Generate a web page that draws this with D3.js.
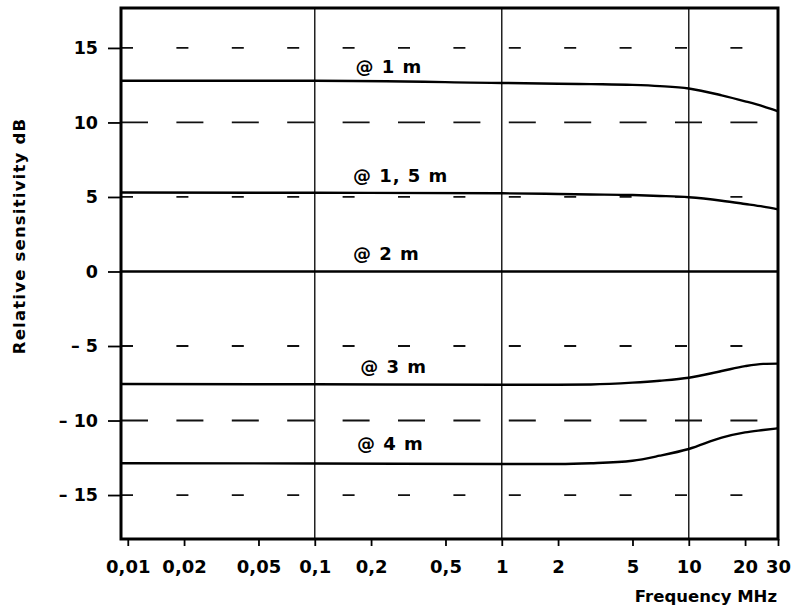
<!DOCTYPE html>
<html>
<meta charset="utf-8">
<head>
<script src="https://cdn.jsdelivr.net/npm/d3@7"></script>
<style>
  body { margin: 0; background: #fff; }
  svg { font-family: "DejaVu Sans", sans-serif; font-weight: bold; }
</style>
</head>
<body>
<script>
// frequencies in MHz (left edge of the frame is just under 0.01)
var freqs = [0.0092, 0.1, 1, 2, 3, 5, 7, 10, 15, 20, 25, 30];
var at1m  = [12.8, 12.8, 12.65, 12.6, 12.57, 12.52, 12.44, 12.28, 11.82, 11.42, 11.08, 10.75];
var at15m = [5.3, 5.28, 5.25, 5.2, 5.17, 5.13, 5.07, 4.98, 4.75, 4.53, 4.35, 4.17];
var at2m  = [0, 0, 0, 0, 0, 0, 0, 0, 0, 0, 0, 0];
var at3m  = [-7.55, -7.57, -7.6, -7.6, -7.58, -7.46, -7.33, -7.13, -6.68, -6.35, -6.2, -6.18];
var at4m  = [-12.87, -12.88, -12.92, -12.92, -12.87, -12.7, -12.36, -11.91, -11.15, -10.8, -10.64, -10.52];

var seriesNames = ["@ 1 m", "@ 1, 5 m", "@ 2 m", "@ 3 m", "@ 4 m"];
// where each label sits: frequency and dB of its baseline
var labelFreq = [0.165, 0.16, 0.16, 0.175, 0.168];
var labelDb   = [13.35, 6.0, 0.77, -6.8, -12.0];

var xTicks = [0.01, 0.02, 0.05, 0.1, 0.2, 0.5, 1, 2, 5, 10, 20, 30];
var xTickText = ["0,01", "0,02", "0,05", "0,1", "0,2", "0,5", "1", "2", "5", "10", "20", "30"];
var yTicks = [15, 10, 5, 0, -5, -10, -15];
var xGrid = [0.1, 1, 10];
var shortDash = [15, 5, -5, -15];
var longDash = [10, -10];

var width = 800, height = 609;
var svg = d3.select("body").append("svg")
  .attr("width", width).attr("height", height);

var x = d3.scaleLog().domain([0.0092, 30]).range([121, 778]);
var y = d3.scaleLinear().domain([-17.95, 17.68]).range([539, 8]);

// dashed horizontal grid
svg.selectAll(".sd").data(shortDash).join("line")
  .attr("x1", x(0.0092)).attr("x2", x(30))
  .attr("y1", d => y(d)).attr("y2", d => y(d))
  .attr("stroke", "#111").attr("stroke-width", 1.8)
  .attr("stroke-dasharray", "12 43.4");
svg.selectAll(".ld").data(longDash).join("line")
  .attr("x1", x(0.0092)).attr("x2", x(30))
  .attr("y1", d => y(d)).attr("y2", d => y(d))
  .attr("stroke", "#111").attr("stroke-width", 1.8)
  .attr("stroke-dasharray", "27 28.4");

// vertical grid
svg.selectAll(".vg").data(xGrid).join("line")
  .attr("x1", d => x(d)).attr("x2", d => x(d))
  .attr("y1", y.range()[1]).attr("y2", y.range()[0])
  .attr("stroke", "#111").attr("stroke-width", 1.4);

// curves
var line = d3.line().curve(d3.curveMonotoneX);
var allSeries = [at1m, at15m, at2m, at3m, at4m];
svg.selectAll(".curve").data(allSeries).join("path")
  .attr("fill", "none").attr("stroke", "#000").attr("stroke-width", 2.4)
  .attr("d", s => line(s.map((v, i) => [x(freqs[i]), y(v)])));

// frame
svg.append("rect")
  .attr("x", x.range()[0]).attr("y", y.range()[1])
  .attr("width", x.range()[1] - x.range()[0])
  .attr("height", y.range()[0] - y.range()[1])
  .attr("fill", "none").attr("stroke", "#000").attr("stroke-width", 3);

// axes
var xAxis = svg.append("g").attr("transform", "translate(0," + y.range()[0] + ")")
  .call(d3.axisBottom(x).tickValues(xTicks).tickSize(7).tickPadding(14)
    .tickFormat((d, i) => xTickText[i]));
var yAxis = svg.append("g").attr("transform", "translate(" + x.range()[0] + ",0)")
  .call(d3.axisLeft(y).tickValues(yTicks).tickSize(13).tickPadding(10)
    .tickFormat(d => d < 0 ? "\u2013 " + Math.abs(d) : d));
[xAxis, yAxis].forEach(function (g) {
  g.select(".domain").remove();
  g.selectAll(".tick line").attr("stroke", "#000").attr("stroke-width", 1.8);
  g.selectAll("text").attr("fill", "#000")
    .style("font-family", "'DejaVu Sans', sans-serif").style("font-weight", "bold");
});
xAxis.selectAll("text").style("font-size", "18px");
yAxis.selectAll("text").style("font-size", "17.5px");

// curve labels
svg.selectAll(".lab").data(seriesNames).join("text")
  .attr("x", (d, i) => x(labelFreq[i])).attr("y", (d, i) => y(labelDb[i]))
  .style("font-size", "18px").style("letter-spacing", "1px")
  .style("white-space", "pre")
  .text(d => d);

// axis titles
svg.append("text")
  .attr("x", 777).attr("y", 602).attr("text-anchor", "end")
  .style("font-size", "16.5px")
  .text("Frequency MHz");
svg.append("text")
  .attr("transform", "translate(25,236) rotate(-90)")
  .attr("text-anchor", "middle")
  .style("font-size", "16.5px").style("letter-spacing", "1.2px")
  .text("Relative sensitivity dB");
</script>
</body>
</html>
